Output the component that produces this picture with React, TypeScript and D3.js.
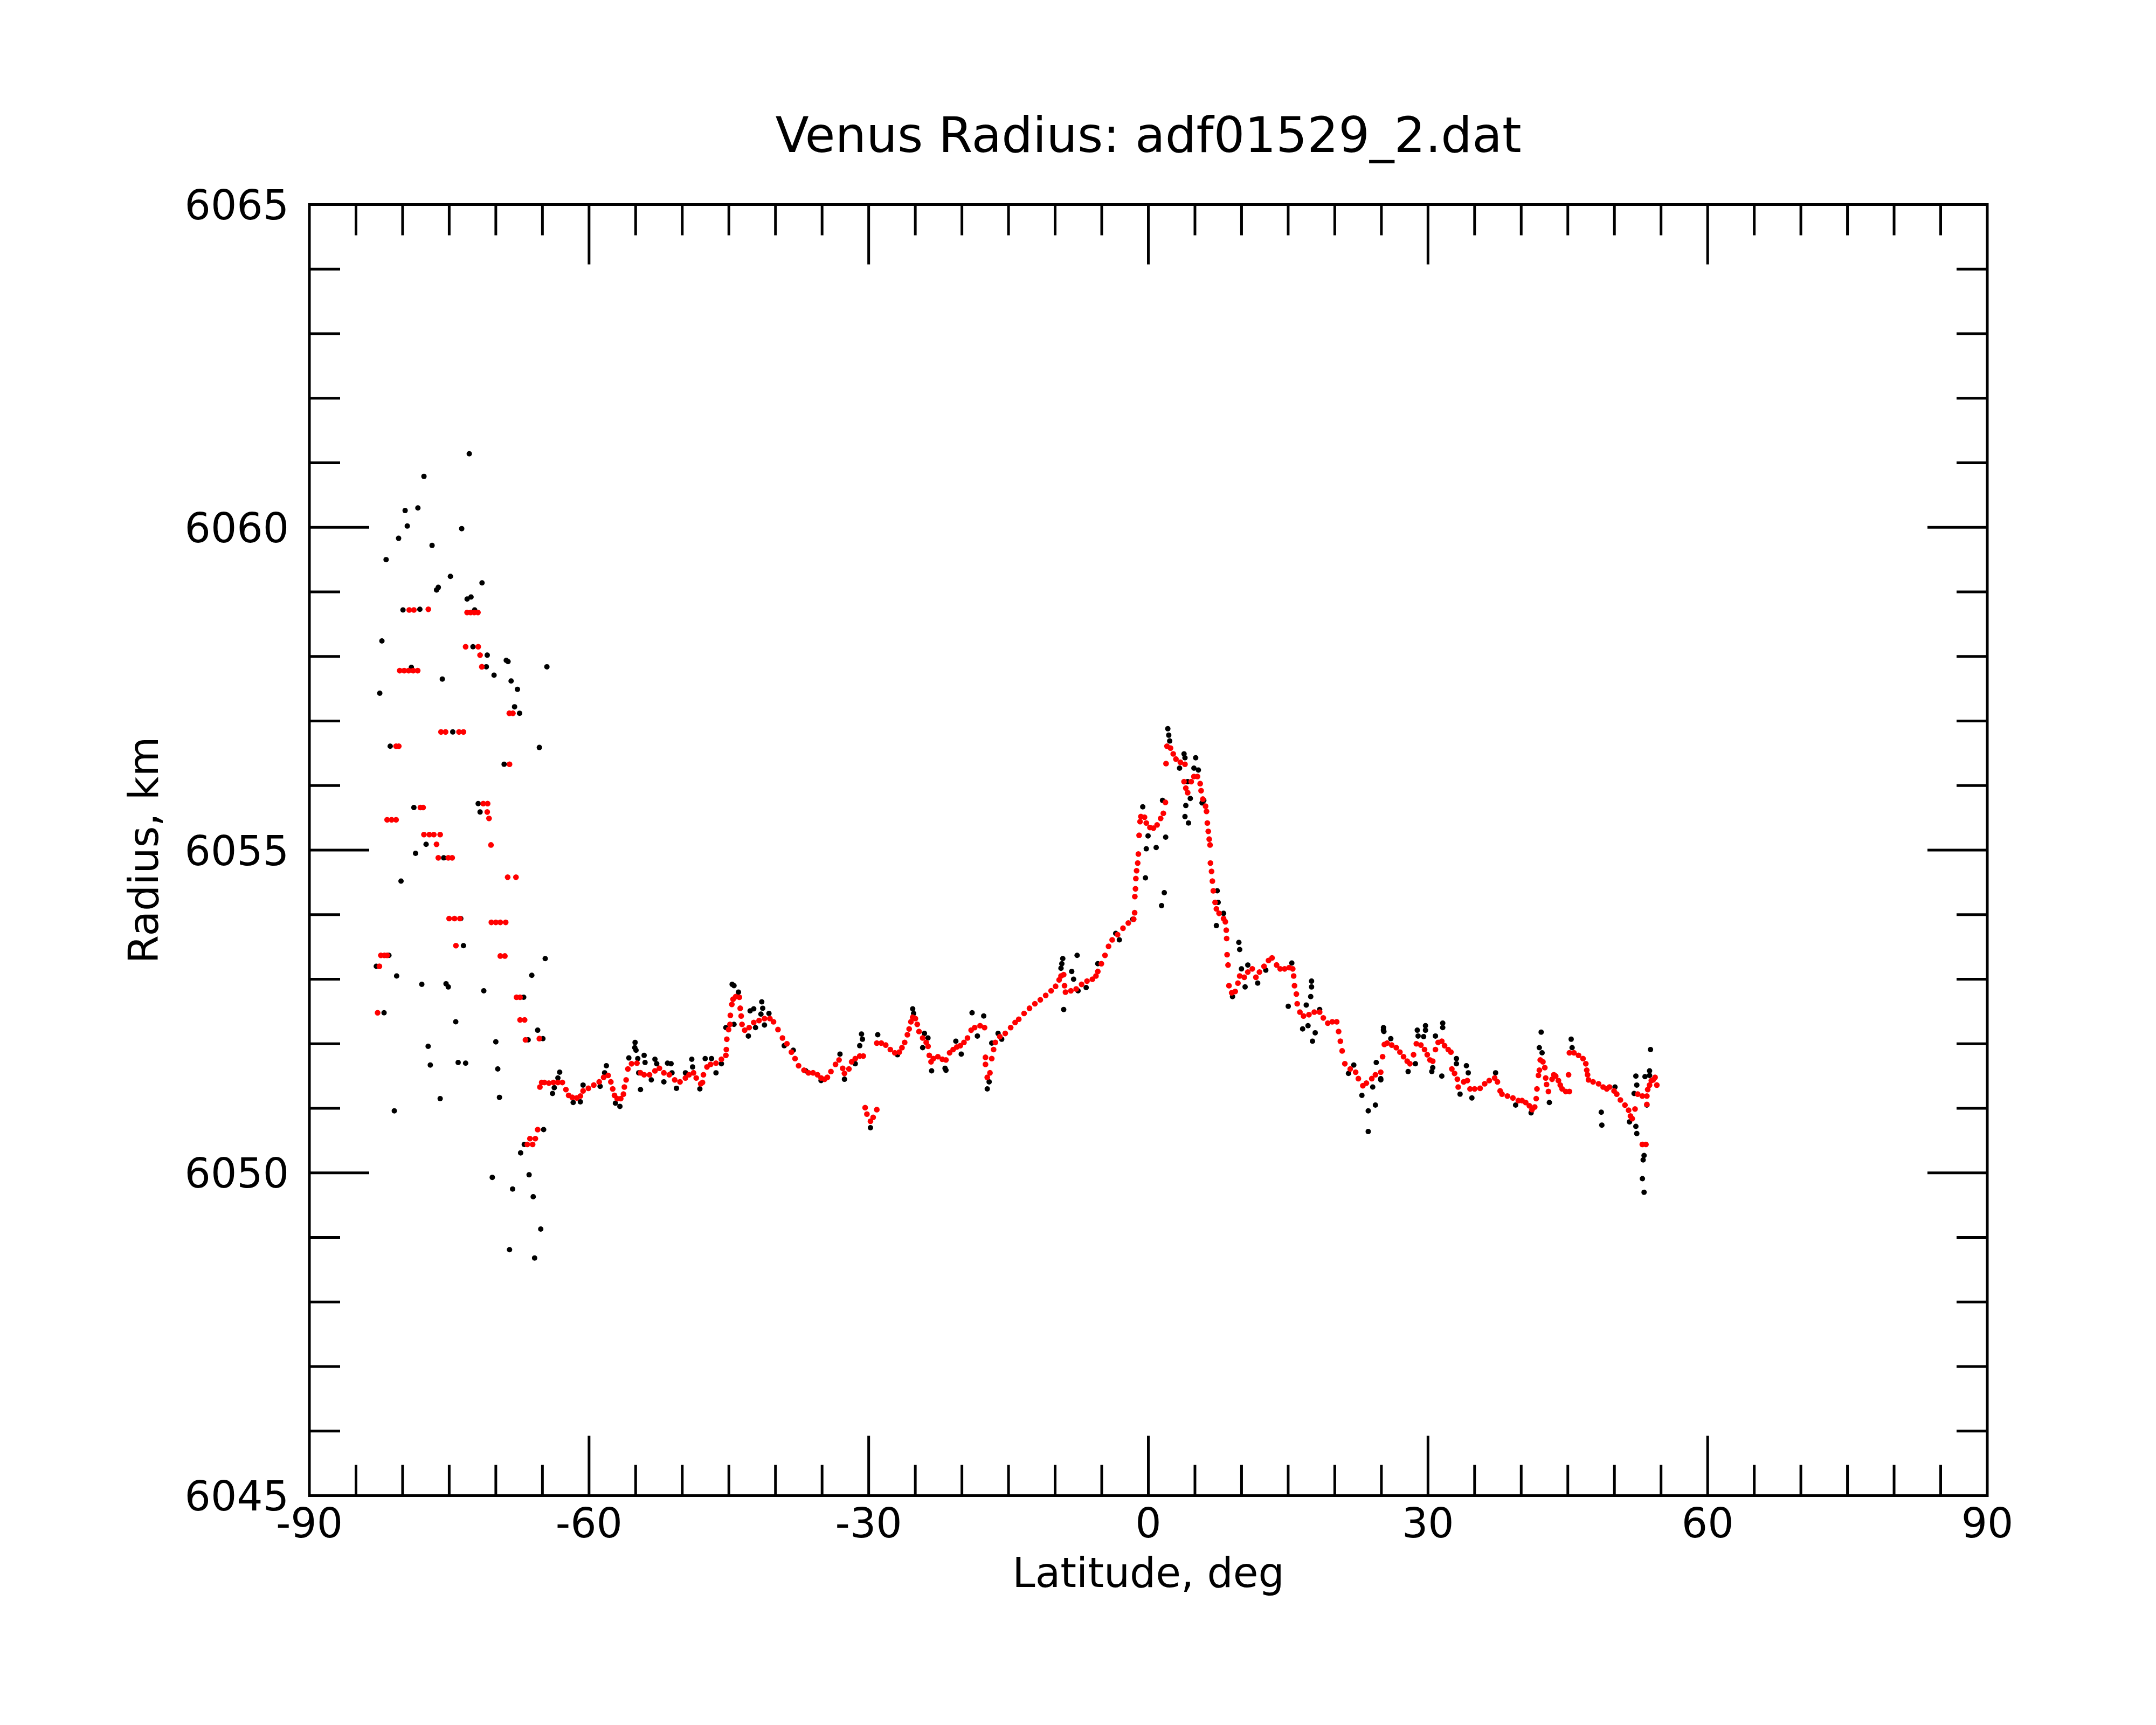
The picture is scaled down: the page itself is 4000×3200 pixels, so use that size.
import * as d3 from "d3";

type Pt = [number, number]; // [latitude deg, radius km]

const xTickLabels = ["-90", "-60", "-30", "0", "30", "60", "90"];
const yTickLabels = ["6045", "6050", "6055", "6060", "6065"];

// raw altimetry, polar scatter
const rawPolar: Pt[] = [
  [-72.85, 6061.14], [-77.71, 6060.79], [-79.73, 6060.26], [-78.36, 6060.3], [-79.5, 6060.02],
  [-73.66, 6059.98], [-80.43, 6059.83], [-76.84, 6059.72], [-81.77, 6059.5], [-74.87, 6059.24],
  [-71.48, 6059.14], [-76.17, 6059.07], [-76.36, 6059.03], [-72.66, 6058.92], [-73.08, 6058.89],
  [-79.96, 6058.72], [-78.15, 6058.73], [-72.27, 6058.72], [-82.22, 6058.24], [-72.45, 6058.15],
  [-70.92, 6058.02], [-68.88, 6057.94], [-68.69, 6057.92], [-64.52, 6057.84], [-71.02, 6057.84],
  [-70.19, 6057.71], [-75.74, 6057.65], [-68.36, 6057.62], [-82.45, 6057.43], [-67.68, 6057.49],
  [-67.99, 6057.22], [-67.45, 6057.12], [-74.62, 6056.83], [-81.33, 6056.61], [-65.33, 6056.59],
  [-69.11, 6056.33], [-78.79, 6055.66], [-71.89, 6055.72], [-71.69, 6055.59], [-77.48, 6055.09],
  [-78.61, 6054.95], [-75.59, 6054.88], [-79.06, 6057.83],
  [-80.17, 6054.52], [-73.76, 6053.94], [-73.47, 6053.52], [-64.7, 6053.32], [-81.47, 6053.37],
  [-82.82, 6053.2], [-80.64, 6053.05], [-66.14, 6053.06], [-77.94, 6052.92], [-75.34, 6052.93],
  [-75.1, 6052.88], [-71.29, 6052.82], [-67.01, 6052.72], [-81.99, 6052.48], [-74.3, 6052.34],
  [-65.51, 6052.21], [-64.95, 6052.08], [-66.53, 6052.06], [-70.0, 6052.03], [-77.26, 6051.96],
  [-77.03, 6051.67], [-74.04, 6051.71], [-73.24, 6051.7], [-69.79, 6051.61], [-75.97, 6051.15],
  [-69.61, 6051.17], [-80.89, 6050.96], [-64.87, 6050.67], [-66.95, 6050.44], [-67.34, 6050.31],
  [-70.38, 6049.93], [-66.43, 6049.97], [-68.2, 6049.75], [-65.99, 6049.63], [-65.18, 6049.13],
  [-68.53, 6048.81], [-65.84, 6048.68],
];

// raw altimetry along the main track
const rawTrack: Pt[] = [
  [-63.15, 6051.56], [-63.92, 6051.23], [-63.73, 6051.32], [-63.34, 6051.47], [-61.7, 6051.09],
  [-60.93, 6051.1], [-60.64, 6051.36], [-58.14, 6051.66], [-58.33, 6051.55], [-58.81, 6051.34],
  [-56.69, 6051.03], [-57.17, 6051.08], [-55.06, 6052.02], [-55.09, 6051.94], [-54.96, 6051.9],
  [-55.73, 6051.78], [-54.77, 6051.77], [-54.09, 6051.82], [-53.99, 6051.71], [-54.48, 6051.29],
  [-54.67, 6051.55], [-52.93, 6051.76], [-52.74, 6051.69], [-51.58, 6051.7], [-51.2, 6051.69],
  [-51.1, 6051.55], [-51.97, 6051.41], [-53.32, 6051.44], [-50.62, 6051.31], [-48.98, 6051.76],
  [-48.89, 6051.64], [-49.66, 6051.55], [-48.11, 6051.3], [-47.54, 6051.77], [-46.86, 6051.77],
  [-46.38, 6051.55], [-45.8, 6051.69], [-45.32, 6052.25], [-44.45, 6052.3], [-44.65, 6052.92],
  [-44.45, 6052.9], [-43.97, 6052.8], [-42.72, 6052.51], [-42.33, 6052.54], [-41.47, 6052.65],
  [-41.37, 6052.55], [-40.7, 6052.47], [-41.18, 6052.29], [-42.14, 6052.25], [-42.91, 6052.12],
  [-41.56, 6052.46],
  [-30.77, 6052.15], [-30.67, 6052.07], [-30.96, 6051.97], [-33.08, 6051.84], [-32.6, 6051.45],
  [-31.44, 6051.69], [-29.03, 6052.14], [-29.81, 6050.7], [-25.28, 6052.54], [-25.18, 6052.47],
  [-24.02, 6052.16], [-23.64, 6052.09], [-24.21, 6051.94], [-23.25, 6051.58], [-21.81, 6051.62],
  [-21.71, 6051.59], [-20.07, 6051.84], [-20.65, 6052.04], [-18.91, 6052.48], [-17.66, 6052.43],
  [-18.34, 6052.12], [-16.8, 6052.01], [-17.08, 6051.41], [-17.28, 6051.3], [-16.12, 6052.16],
  [-15.73, 6052.07], [-26.91, 6051.83], [-36.75, 6051.58], [-35.11, 6051.43], [-39.06, 6051.97],
  [-38.09, 6051.9],
  [-9.18, 6053.32], [-9.28, 6053.24], [-9.37, 6053.17], [-7.64, 6053.37], [-9.08, 6052.53],
  [-8.22, 6053.12], [-8.02, 6053.0], [-6.67, 6052.87], [-7.54, 6052.82], [-5.42, 6053.24],
  [-3.5, 6053.71], [-3.11, 6053.61], [-1.66, 6053.93], [-0.6, 6055.67], [-0.03, 6055.22],
  [-0.22, 6055.02], [0.84, 6055.04], [-0.31, 6054.57], [1.71, 6054.34], [1.42, 6054.14],
  [1.86, 6055.2], [1.52, 6055.77], [2.09, 6056.88], [2.19, 6056.78], [2.29, 6056.69],
  [3.35, 6056.27], [3.83, 6056.49], [3.93, 6056.43], [5.08, 6056.43], [4.89, 6056.27],
  [5.37, 6056.24], [4.02, 6055.69], [3.93, 6055.52], [4.31, 6055.42], [4.5, 6055.8], [4.22, 6056.06],
  [5.95, 6055.77], [5.76, 6055.73], [7.39, 6054.37], [7.49, 6054.19], [8.07, 6054.02],
  [7.3, 6053.83], [9.71, 6053.57], [9.8, 6053.46], [9.99, 6053.16], [10.38, 6052.88],
  [9.03, 6052.73], [10.67, 6053.22], [11.73, 6052.94], [12.6, 6053.14], [15.01, 6052.58],
  [15.39, 6053.25], [17.51, 6052.97], [17.51, 6052.88], [17.42, 6052.73], [16.94, 6052.6],
  [16.55, 6052.23], [17.13, 6052.28], [17.61, 6052.04], [17.9, 6052.17], [18.38, 6052.53],
  [21.47, 6051.54], [22.04, 6051.67], [22.91, 6051.2], [23.59, 6050.96], [23.59, 6050.64],
  [24.36, 6051.05], [24.45, 6051.71], [24.93, 6051.46], [25.22, 6052.21], [24.07, 6051.33],
  [25.23, 6052.25], [25.27, 6052.19], [26.01, 6052.08], [24.94, 6051.44], [27.87, 6051.57],
  [28.65, 6051.69], [28.85, 6052.21], [28.94, 6052.12], [29.73, 6052.28], [29.73, 6052.21],
  [29.53, 6052.11], [30.41, 6051.57], [30.51, 6051.63], [30.8, 6052.12], [31.58, 6052.32],
  [31.58, 6052.25], [31.48, 6051.5], [33.05, 6051.77], [33.05, 6051.69], [34.12, 6051.66],
  [34.32, 6051.55], [33.44, 6051.22], [34.71, 6051.16], [37.25, 6051.55], [39.4, 6051.05],
  [41.06, 6050.93], [42.14, 6052.18], [41.94, 6051.94], [42.24, 6051.86], [43.02, 6051.09],
  [45.36, 6052.07], [45.46, 6051.94], [48.59, 6050.94], [48.65, 6050.74], [50.06, 6051.33],
  [51.62, 6050.79], [52.3, 6051.5], [52.4, 6051.36], [52.11, 6051.23], [52.3, 6050.72],
  [52.4, 6050.61], [53.08, 6050.2], [53.18, 6050.27], [53.0, 6049.91], [53.18, 6049.7],
  [53.77, 6051.58], [53.77, 6051.51], [53.87, 6051.91], [53.48, 6051.05], [53.28, 6051.49],
];

// filtered profile, polar steps
const filtPolar: Pt[] = [
  [-79.29, 6058.72], [-78.79, 6058.72], [-77.24, 6058.73], [-73.08, 6058.68], [-72.7, 6058.68],
  [-72.31, 6058.68], [-71.92, 6058.68], [-73.24, 6058.15], [-71.89, 6058.15], [-71.69, 6058.02],
  [-71.5, 6057.84], [-80.31, 6057.78], [-79.83, 6057.78], [-79.35, 6057.78], [-78.86, 6057.78],
  [-78.38, 6057.78], [-68.55, 6057.12], [-68.17, 6057.12], [-75.88, 6056.83], [-75.39, 6056.83],
  [-73.95, 6056.83], [-73.47, 6056.83], [-80.7, 6056.61], [-80.41, 6056.61], [-68.53, 6056.33],
  [-78.09, 6055.66], [-77.8, 6055.66], [-71.35, 6055.72], [-70.88, 6055.72], [-70.92, 6055.59],
  [-70.73, 6055.49], [-81.66, 6055.47], [-81.18, 6055.47], [-80.7, 6055.47], [-77.71, 6055.24],
  [-77.13, 6055.24], [-76.65, 6055.24], [-75.97, 6055.24], [-76.36, 6055.09], [-70.52, 6055.08],
  [-76.17, 6054.88], [-75.1, 6054.88], [-74.68, 6054.88],
  [-68.73, 6054.58], [-67.84, 6054.58], [-75.01, 6053.94], [-74.43, 6053.94], [-73.85, 6053.94],
  [-70.48, 6053.88], [-70.0, 6053.88], [-69.52, 6053.88], [-68.94, 6053.88], [-74.28, 6053.52],
  [-82.33, 6053.37], [-81.95, 6053.37], [-81.66, 6053.37], [-69.52, 6053.36], [-69.03, 6053.36],
  [-82.49, 6053.2], [-67.78, 6052.72], [-67.4, 6052.72], [-67.4, 6052.37], [-66.91, 6052.37],
  [-82.68, 6052.48], [-66.82, 6052.06], [-65.33, 6052.08], [-65.51, 6050.67], [-66.34, 6050.53],
  [-65.76, 6050.53], [-66.62, 6050.44], [-66.05, 6050.44],
];

// filtered profile along the main track
const filtTrack: Pt[] = [
  [-65.27, 6051.33], [-65.08, 6051.4], [-64.79, 6051.4], [-64.31, 6051.39], [-63.82, 6051.4],
  [-63.34, 6051.4], [-62.86, 6051.4], [-62.48, 6051.29], [-62.19, 6051.2], [-61.8, 6051.17],
  [-61.32, 6051.16], [-60.93, 6051.19], [-60.64, 6051.27], [-60.07, 6051.31], [-59.49, 6051.36],
  [-58.91, 6051.41], [-58.43, 6051.48], [-57.95, 6051.51], [-57.66, 6051.41], [-57.46, 6051.3],
  [-57.27, 6051.2], [-56.98, 6051.15], [-56.6, 6051.15], [-56.31, 6051.22], [-56.21, 6051.33],
  [-56.02, 6051.44], [-55.83, 6051.61], [-55.44, 6051.69], [-54.86, 6051.7], [-54.48, 6051.55],
  [-54.09, 6051.52], [-53.51, 6051.52], [-52.93, 6051.58], [-52.45, 6051.62], [-51.97, 6051.55],
  [-51.39, 6051.52], [-50.81, 6051.44], [-50.24, 6051.41], [-49.66, 6051.47], [-49.27, 6051.52],
  [-48.79, 6051.55], [-48.5, 6051.47], [-48.02, 6051.38], [-47.83, 6051.4], [-47.73, 6051.52],
  [-47.35, 6051.64], [-46.96, 6051.68], [-46.38, 6051.7], [-45.8, 6051.76], [-45.32, 6051.82],
  [-45.27, 6051.91], [-45.22, 6052.07], [-45.03, 6052.22], [-44.88, 6052.3], [-44.84, 6052.44],
  [-44.68, 6052.61], [-44.55, 6052.69], [-44.26, 6052.73], [-43.87, 6052.72], [-43.78, 6052.55],
  [-43.68, 6052.43], [-43.59, 6052.3], [-43.3, 6052.21], [-42.82, 6052.25], [-42.33, 6052.33],
  [-41.76, 6052.36], [-41.18, 6052.39], [-40.6, 6052.39],
  [-40.21, 6052.34], [-39.73, 6052.22], [-39.25, 6052.09], [-38.77, 6052.0], [-38.29, 6051.87],
  [-37.9, 6051.77], [-37.52, 6051.66], [-36.94, 6051.59], [-36.46, 6051.55], [-35.97, 6051.55],
  [-35.49, 6051.52], [-35.11, 6051.47], [-34.72, 6051.45], [-34.43, 6051.48], [-34.05, 6051.57],
  [-33.56, 6051.68], [-33.18, 6051.75], [-32.79, 6051.62], [-32.6, 6051.54], [-32.12, 6051.61],
  [-31.83, 6051.72], [-31.44, 6051.77], [-30.96, 6051.81], [-30.58, 6051.81],
  [-30.38, 6051.01], [-30.19, 6050.91], [-29.81, 6050.8], [-29.52, 6050.86], [-29.13, 6050.98],
  [-29.13, 6052.01], [-28.65, 6052.01], [-28.17, 6051.98], [-27.68, 6051.91], [-27.2, 6051.86],
  [-26.72, 6051.87], [-26.43, 6051.94], [-26.14, 6052.02], [-25.85, 6052.14], [-25.66, 6052.23],
  [-25.47, 6052.34], [-25.28, 6052.41], [-24.99, 6052.39], [-24.79, 6052.3], [-24.6, 6052.19],
  [-24.21, 6052.09], [-23.83, 6052.02], [-23.63, 6051.96], [-23.5, 6051.82], [-23.31, 6051.72],
  [-23.06, 6051.77], [-22.58, 6051.8], [-22.1, 6051.76], [-21.71, 6051.75], [-21.32, 6051.86],
  [-20.94, 6051.91], [-20.55, 6051.95], [-20.17, 6051.97], [-19.78, 6052.02], [-19.4, 6052.09],
  [-19.01, 6052.21], [-18.63, 6052.25], [-18.05, 6052.28], [-17.57, 6052.25],
  [-17.47, 6051.79], [-16.8, 6051.77], [-17.47, 6051.68], [-16.99, 6051.55], [-17.28, 6051.48],
  [-16.6, 6051.91], [-16.41, 6052.02], [-15.93, 6052.11], [-15.35, 6052.16], [-14.77, 6052.25],
  [-14.29, 6052.33],
  [-13.9, 6052.38], [-13.33, 6052.47], [-12.75, 6052.55], [-12.17, 6052.62], [-11.59, 6052.68],
  [-11.01, 6052.75], [-10.43, 6052.82], [-9.95, 6052.89], [-9.57, 6052.99], [-9.37, 6053.05],
  [-9.08, 6053.07], [-8.99, 6052.9], [-8.89, 6052.8], [-8.31, 6052.82], [-7.74, 6052.85],
  [-7.16, 6052.92], [-6.58, 6052.97], [-6.0, 6053.0], [-5.62, 6053.05], [-5.42, 6053.12],
  [-5.04, 6053.24], [-4.65, 6053.37], [-4.27, 6053.51], [-3.88, 6053.61], [-3.3, 6053.69],
  [-2.72, 6053.79], [-2.15, 6053.87], [-1.57, 6053.93], [-1.47, 6054.03], [-1.45, 6054.28],
  [-1.38, 6054.4], [-1.34, 6054.56], [-1.26, 6054.68], [-1.14, 6054.8], [-1.07, 6054.94],
  [-0.99, 6055.23], [-0.89, 6055.44], [-0.8, 6055.52], [-0.41, 6055.51], [-0.22, 6055.42],
  [0.17, 6055.35], [0.55, 6055.34], [0.94, 6055.39], [1.32, 6055.49], [1.61, 6055.57],
  [1.83, 6055.74], [1.9, 6056.34], [2.0, 6056.61], [2.38, 6056.58], [2.67, 6056.49],
  [2.96, 6056.41], [3.44, 6056.36], [3.93, 6056.33], [3.83, 6056.06], [4.02, 6055.96],
  [4.22, 6055.89], [4.6, 6056.06],
  [4.89, 6056.14], [5.27, 6056.14], [5.56, 6056.03], [5.66, 6055.92], [5.85, 6055.79],
  [6.14, 6055.68], [6.24, 6055.6], [6.33, 6055.42], [6.43, 6055.29], [6.53, 6055.17],
  [6.62, 6055.08], [6.66, 6054.8], [6.78, 6054.67], [6.87, 6054.52], [6.97, 6054.37],
  [7.16, 6054.19], [7.3, 6054.09], [7.59, 6054.02], [8.07, 6053.94], [8.26, 6053.89],
  [8.36, 6053.76], [8.4, 6053.63], [8.45, 6053.38], [8.55, 6053.22], [8.65, 6052.9],
  [8.94, 6052.79], [9.32, 6052.81], [9.61, 6052.94], [9.8, 6053.05], [10.29, 6053.03],
  [10.67, 6053.11], [11.15, 6053.16], [11.54, 6053.03], [11.92, 6053.11], [12.41, 6053.2],
  [12.89, 6053.29], [13.27, 6053.33], [13.76, 6053.22], [14.14, 6053.16], [14.62, 6053.16],
  [15.11, 6053.18], [15.49, 6053.16], [15.59, 6053.05], [15.68, 6052.9], [15.88, 6052.77],
  [15.97, 6052.62], [16.26, 6052.49], [16.65, 6052.43], [17.23, 6052.45], [17.8, 6052.49],
  [18.38, 6052.49], [18.77, 6052.4], [19.25, 6052.32], [19.73, 6052.34], [20.21, 6052.34],
  [20.41, 6052.19], [20.6, 6052.04], [20.79, 6051.89], [21.08, 6051.69], [21.66, 6051.61],
  [22.24, 6051.56], [22.53, 6051.46], [23.01, 6051.35], [23.39, 6051.39], [23.97, 6051.46],
  [24.36, 6051.52], [24.93, 6051.56], [25.13, 6051.8], [25.32, 6051.99],
  [25.62, 6052.01], [26.11, 6051.98], [26.6, 6051.94], [26.99, 6051.87], [27.38, 6051.8],
  [27.77, 6051.73], [28.06, 6051.69], [28.45, 6051.83], [28.75, 6052.0], [29.24, 6051.98],
  [29.63, 6051.91], [29.92, 6051.83], [30.21, 6051.75], [30.51, 6051.73], [30.8, 6051.91],
  [31.09, 6052.02], [31.48, 6052.04], [31.78, 6051.97], [32.17, 6051.91], [32.46, 6051.87],
  [32.56, 6051.61], [32.85, 6051.54], [33.15, 6051.45], [33.24, 6051.33], [33.83, 6051.41],
  [34.22, 6051.43], [34.51, 6051.3], [35.0, 6051.3], [35.59, 6051.31], [36.08, 6051.38],
  [36.57, 6051.43], [37.15, 6051.47], [37.45, 6051.41], [37.74, 6051.27], [37.94, 6051.22],
  [38.52, 6051.19], [39.11, 6051.16], [39.69, 6051.12], [40.09, 6051.12], [40.48, 6051.09],
  [40.87, 6051.04], [41.16, 6050.98], [41.45, 6051.02], [41.61, 6051.15], [41.69, 6051.3],
  [41.85, 6051.51], [41.95, 6051.59], [42.04, 6051.75], [42.33, 6051.72], [42.53, 6051.63],
  [42.63, 6051.47], [42.72, 6051.37], [42.92, 6051.26], [43.31, 6051.45], [43.5, 6051.52],
  [43.7, 6051.5], [43.99, 6051.43], [44.19, 6051.36], [44.39, 6051.3], [44.78, 6051.26],
  [45.17, 6051.26], [45.08, 6051.52], [45.17, 6051.86], [45.66, 6051.86], [46.15, 6051.82],
  [46.63, 6051.77], [46.93, 6051.69], [47.03, 6051.59], [47.12, 6051.52], [47.22, 6051.44],
  [47.71, 6051.41], [48.3, 6051.38], [48.79, 6051.33], [49.18, 6051.3], [49.47, 6051.33],
  [49.96, 6051.27], [50.25, 6051.22], [50.64, 6051.13], [51.13, 6051.05], [51.52, 6050.97],
  [51.72, 6050.88], [51.91, 6050.84], [52.21, 6050.99], [52.5, 6051.22], [52.99, 6051.19],
  [53.48, 6051.06], [53.48, 6051.19], [53.57, 6051.29], [53.77, 6051.36], [53.96, 6051.43],
  [54.16, 6051.44], [54.36, 6051.48], [54.55, 6051.36], [52.99, 6050.44], [53.38, 6050.44],
];

const FONT = "'DejaVu Sans', 'Liberation Sans', sans-serif";

export default function App() {
  const width = 4000;
  const height = 3200;
  const left = 574, right = 3687, top = 379.5, bottom = 2774.5;

  const x = d3.scaleLinear().domain([-90, 90]).range([left, right]);
  const y = d3.scaleLinear().domain([6045, 6065]).range([bottom, top]);

  const xMajor = [-60, -30, 0, 30, 60];
  const xMinor = x.ticks(36).filter((v) => v % 30 !== 0);
  const yMajor = [6050, 6055, 6060];
  const yMinor = y.ticks(20).filter((v) => v % 5 !== 0);
  const xLabelVals = d3.range(-90, 91, 30);
  const yLabelVals = d3.range(6045, 6066, 5);

  const major = 111;
  const minor = 57;
  const sw = 5;

  const raw = rawPolar.concat(rawTrack);
  const filt = filtPolar.concat(filtTrack);

  return (
    <svg
      width={width}
      height={height}
      viewBox={`0 0 ${width} ${height}`}
      style={{ position: "absolute", left: 0, top: 0, background: "#fff" }}
      fontFamily={FONT}
    >
      <rect x={0} y={0} width={width} height={height} fill="#fff" />

      <text x={(left + right) / 2} y={282} fontSize={91} textAnchor="middle" fill="#000">
        Venus Radius: adf01529_2.dat
      </text>

      {/* data: raw first, filtered on top */}
      <g fill="#000">
        {raw.map((d, i) => (
          <circle key={"r" + i} cx={x(d[0])} cy={y(d[1])} r={5} />
        ))}
      </g>
      <g fill="#ff0000">
        {filt.map((d, i) => (
          <circle key={"f" + i} cx={x(d[0])} cy={y(d[1])} r={5.3} />
        ))}
      </g>

      {/* ticks on all four sides, pointing inward */}
      <g stroke="#000" strokeWidth={sw}>
        {xMajor.map((v) => (
          <g key={"xM" + v}>
            <line x1={x(v)} x2={x(v)} y1={bottom} y2={bottom - major} />
            <line x1={x(v)} x2={x(v)} y1={top} y2={top + major} />
          </g>
        ))}
        {xMinor.map((v) => (
          <g key={"xm" + v}>
            <line x1={x(v)} x2={x(v)} y1={bottom} y2={bottom - minor} />
            <line x1={x(v)} x2={x(v)} y1={top} y2={top + minor} />
          </g>
        ))}
        {yMajor.map((v) => (
          <g key={"yM" + v}>
            <line x1={left} x2={left + major} y1={y(v)} y2={y(v)} />
            <line x1={right} x2={right - major} y1={y(v)} y2={y(v)} />
          </g>
        ))}
        {yMinor.map((v) => (
          <g key={"ym" + v}>
            <line x1={left} x2={left + minor} y1={y(v)} y2={y(v)} />
            <line x1={right} x2={right - minor} y1={y(v)} y2={y(v)} />
          </g>
        ))}
        <rect
          x={left}
          y={top}
          width={right - left}
          height={bottom - top}
          fill="none"
          strokeLinejoin="miter"
        />
      </g>

      {/* tick labels */}
      <g fontSize={76} fill="#000">
        {xLabelVals.map((v, i) => (
          <text key={"xl" + v} x={x(v)} y={2852} textAnchor="middle">
            {xTickLabels[i]}
          </text>
        ))}
        {yLabelVals.map((v, i) => (
          <text key={"yl" + v} x={536} y={y(v) + 27.5} textAnchor="end">
            {yTickLabels[i]}
          </text>
        ))}
      </g>

      <text x={(left + right) / 2} y={2944} fontSize={76} textAnchor="middle" fill="#000">
        Latitude, deg
      </text>
      <text
        transform={`translate(293, ${(top + bottom) / 2}) rotate(-90)`}
        fontSize={76}
        textAnchor="middle"
        fill="#000"
      >
        Radius, km
      </text>
    </svg>
  );
}
